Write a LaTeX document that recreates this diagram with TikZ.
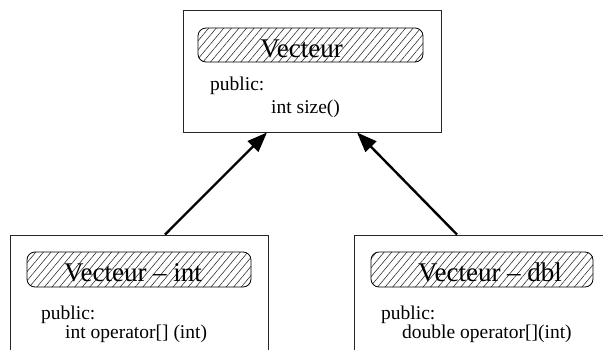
\documentclass[tikz,border=0pt]{standalone}
\usepackage{fontspec}
\setmainfont{Liberation Serif}
\usetikzlibrary{arrows.meta,patterns.meta}
\tikzset{
  classbox/.style={draw=black!85, line width=0.9pt, rectangle, inner sep=0pt},
  hatchbox/.style={draw=black, line width=0.8pt, rounded corners=8pt, inner sep=0pt,
    pattern={Lines[angle=50,distance=5.8pt,line width=0.55pt]}, pattern color=black!85},
  title/.style={anchor=base, inner sep=0pt, font=\fontsize{27}{30}\selectfont},
  body/.style={anchor=base west, inner sep=0pt, font=\fontsize{19.5}{22}\selectfont},
  inh/.style={line width=2.4pt, -{Triangle[length=20pt,width=15pt]}},
}
\begin{document}
\begin{tikzpicture}[x=1pt,y=-1pt]
\useasboundingbox (0,0) rectangle (603,349);
\clip (0,0) rectangle (603,349);
% top class
\node[classbox, minimum width=258pt, minimum height=122pt] (top) at (312,71) {};
\node[hatchbox, minimum width=225pt, minimum height=34pt] (toph) at (310.5,45) {};
\node[title] (topl) at (301.5,57) {Vecteur};
\node[body] (toppub) at (210,90) {public:};
\node[body] (topm) at (271,113) {int size()};
% bottom left class
\node[classbox, minimum width=258pt, minimum height=140pt] (bl) at (139,305) {};
\node[hatchbox, minimum width=224pt, minimum height=35pt] (blh) at (139,269.5) {};
\node[title] (bll) at (133,281) {Vecteur -- int};
\node[body] (blpub) at (41,319) {public:};
\node[body] (blm) at (65,338) {int operator[] (int)};
% bottom right class
\node[classbox, minimum width=266pt, minimum height=140pt] (br) at (487,305) {};
\node[hatchbox, minimum width=222pt, minimum height=35pt] (brh) at (482,269.5) {};
\node[title] (brl) at (490,281) {Vecteur -- dbl};
\node[body] (brpub) at (381,319) {public:};
\node[body] (brm) at (402,338) {double operator[](int)};
% inheritance arrows
\draw[inh] ([xshift=26pt]bl.north) -- ([xshift=-45pt]top.south);
\draw[inh] ([xshift=-30pt]br.north) -- ([xshift=45pt]top.south);
\end{tikzpicture}
\end{document}
